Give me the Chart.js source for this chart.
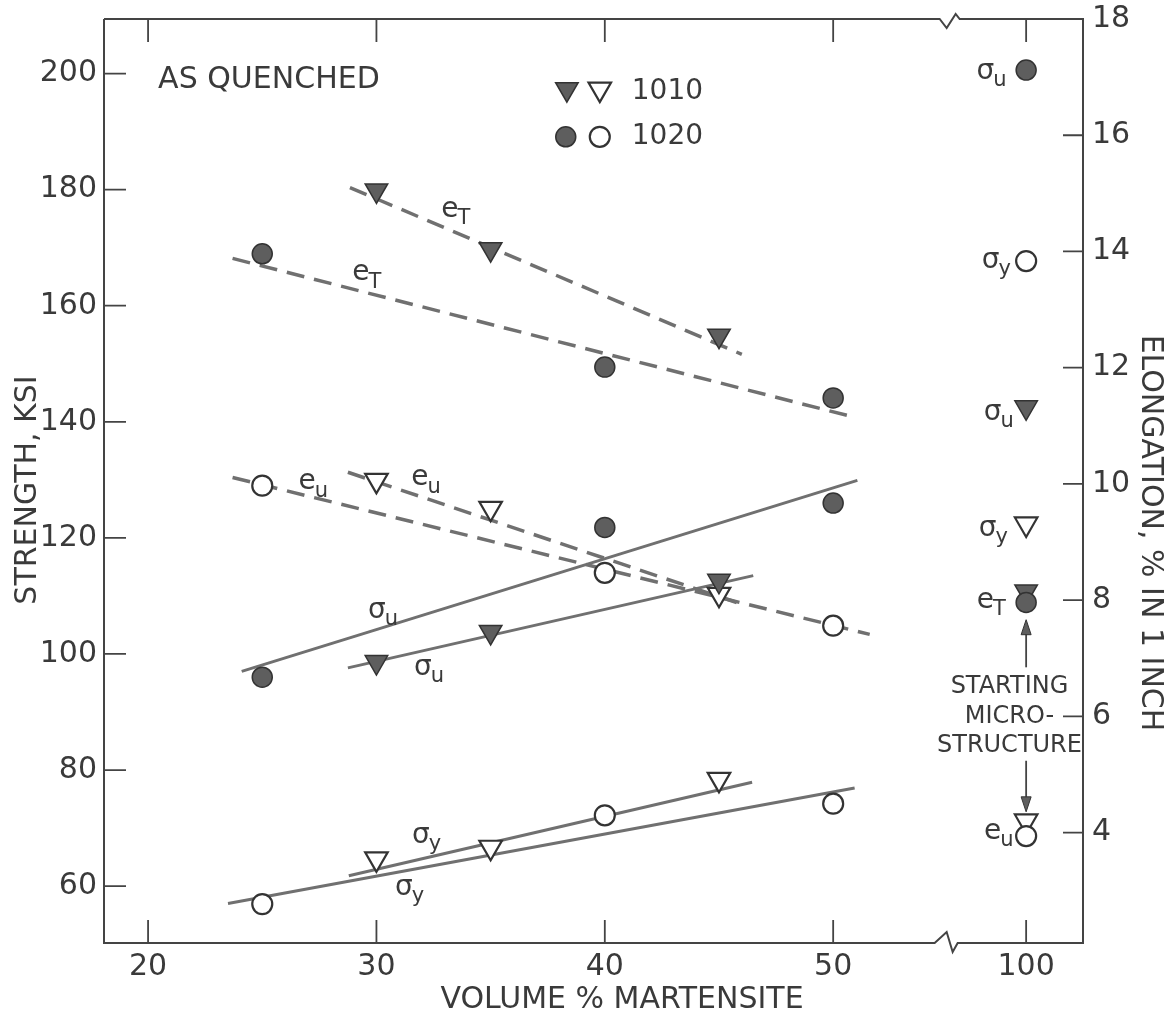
<!DOCTYPE html>
<html><head><meta charset="utf-8">
<script src="https://cdn.jsdelivr.net/npm/chart.js@4.4.1/dist/chart.umd.min.js"></script>
<style>html,body{margin:0;padding:0;background:#fff;}#wrap{width:1164px;height:1018px;}</style>
</head><body><div id="wrap"><canvas id="c" width="1164" height="1018"></canvas></div>
<script>
// ---------------- data ----------------
const vol1020 = [25, 40, 50];
const vol1010 = [30, 35, 45];
const sigmaU1020 = [96.0, 121.8, 126.0];   // ksi
const sigmaY1020 = [56.9, 72.2, 74.2];     // ksi
const elongT1020 = [13.96, 12.01, 11.48];  // %
const elongU1020 = [9.97, 8.47, 7.56];     // %
const sigmaU1010 = [98.6, 103.8, 112.6];
const sigmaY1010 = [64.7, 66.7, 78.4];
const elongT1010 = [15.05, 14.04, 12.55];
const elongU1010 = [10.06, 9.58, 8.1];
// 100 % martensite (starting microstructure): [sigmaU, sigmaY, eT, eU]
const start1020 = [200.6, 167.7, 7.96, 3.94];
const start1010 = [142.5, 122.4, 8.15, 4.2];
// fitted lines [start, end] as [vol %, value]
const fitET1010 = [[28.84, 15.10], [46.0, 12.23]];
const fitET1020 = [[23.7, 13.88], [51.0, 11.14]];
const fitEU1020 = [[23.7, 10.11], [51.6, 7.41]];
const fitEU1010 = [[28.75, 10.2], [46.0, 7.93]];
const fitSU1020 = [[24.1, 97.0], [51.06, 129.9]];
const fitSU1010 = [[28.75, 97.6], [46.5, 113.5]];
const fitSY1020 = [[23.5, 57.0], [50.94, 76.9]];
const fitSY1010 = [[28.79, 61.8], [46.45, 77.9]];
// axes
const xTickValues = [20, 30, 40, 50, 58.45];   // 58.45 = position of 100 % after the axis break
const xTickLabels = ['20', '30', '40', '50', '100'];
const POS100 = 58.45;
const BREAK_AT = 54.97;
const yTickValues = [60, 80, 100, 120, 140, 160, 180, 200];
const y2TickValues = [4, 6, 8, 10, 12, 14, 16, 18];

// ---------------- styling ----------------
const FONT = '"DejaVu Sans", sans-serif';
const TXT = '#3a3a3a';
const LINE = '#707070';
const FILL = '#5e5e5e';
const EDGE = '#333333';

function pts(xs, ys) { return xs.map((x, i) => ({x: x, y: ys[i]})); }
function seg(s) { return s.map(p => ({x: p[0], y: p[1]})); }

function marker(data, axis, style, filled) {
  return {
    type: 'scatter', data: data, yAxisID: axis, order: 0, showLine: false,
    pointStyle: style, pointRotation: style === 'triangle' ? 180 : 0,
    pointRadius: style === 'triangle' ? 13 : 10,
    pointBackgroundColor: filled ? FILL : '#ffffff',
    pointBorderColor: EDGE, pointBorderWidth: filled ? 1.5 : 2.2
  };
}
function fitLine(s, axis, dashed) {
  return {
    type: 'scatter', data: seg(s), yAxisID: axis, order: 1, showLine: true,
    borderColor: LINE, borderWidth: dashed ? 3.5 : 3, borderDash: dashed ? [18, 10] : [],
    pointRadius: 0, fill: false
  };
}

const datasets = [
  marker(pts(vol1020, sigmaU1020).concat([{x: POS100, y: start1020[0]}]), 'y', 'circle', true),
  marker(pts(vol1020, sigmaY1020).concat([{x: POS100, y: start1020[1]}]), 'y', 'circle', false),
  marker(pts(vol1020, elongT1020).concat([{x: POS100, y: start1020[2]}]), 'y2', 'circle', true),
  marker(pts(vol1020, elongU1020).concat([{x: POS100, y: start1020[3]}]), 'y2', 'circle', false),
  marker(pts(vol1010, sigmaU1010).concat([{x: POS100, y: start1010[0]}]), 'y', 'triangle', true),
  marker(pts(vol1010, sigmaY1010).concat([{x: POS100, y: start1010[1]}]), 'y', 'triangle', false),
  marker(pts(vol1010, elongT1010).concat([{x: POS100, y: start1010[2]}]), 'y2', 'triangle', true),
  marker(pts(vol1010, elongU1010).concat([{x: POS100, y: start1010[3]}]), 'y2', 'triangle', false),
  fitLine(fitET1010, 'y2', true),
  fitLine(fitET1020, 'y2', true),
  fitLine(fitEU1020, 'y2', true),
  fitLine(fitEU1010, 'y2', true),
  fitLine(fitSU1020, 'y', false),
  fitLine(fitSU1010, 'y', false),
  fitLine(fitSY1020, 'y', false),
  fitLine(fitSY1010, 'y', false)
];

// annotation labels (positions in data units: vol %, ksi)
const curveLabels = [
  {m: 'e', s: 'T', x: 33.22, y: 176.5},
  {m: 'e', s: 'T', x: 29.32, y: 165.6},
  {m: 'e', s: 'u', x: 26.96, y: 129.6},
  {m: 'e', s: 'u', x: 31.9,  y: 130.3},
  {m: 'σ', s: 'u', x: 30.02, y: 107.5},
  {m: 'σ', s: 'u', x: 32.03, y: 97.7},
  {m: 'σ', s: 'y', x: 31.95, y: 68.7},
  {m: 'σ', s: 'y', x: 31.2,  y: 59.7},
  {m: 'σ', s: 'u', x: 56.67, y: 200.4},
  {m: 'σ', s: 'y', x: 56.9,  y: 167.7},
  {m: 'σ', s: 'u', x: 56.98, y: 141.6},
  {m: 'σ', s: 'y', x: 56.76, y: 121.6},
  {m: 'e', s: 'T', x: 56.67, y: 109.2},
  {m: 'e', s: 'u', x: 56.98, y: 69.4}
];

function drawMark(ctx, style, filled, x, y) {
  ctx.save();
  ctx.fillStyle = filled ? FILL : '#fff';
  ctx.strokeStyle = EDGE;
  ctx.lineWidth = filled ? 1.5 : 2.2;
  ctx.beginPath();
  if (style === 'circle') {
    ctx.arc(x, y, 10, 0, Math.PI * 2);
  } else {
    const r = 13;
    ctx.moveTo(x, y + r);
    ctx.lineTo(x + r * Math.sin(Math.PI / 3), y - r / 2);
    ctx.lineTo(x - r * Math.sin(Math.PI / 3), y - r / 2);
    ctx.closePath();
  }
  ctx.fill(); ctx.stroke();
  ctx.restore();
}

const decor = {
  id: 'decor',
  afterDraw(chart) {
    const ctx = chart.ctx, a = chart.chartArea;
    const x = chart.scales.x, y = chart.scales.y, y2 = chart.scales.y2;
    ctx.save();
    // frame with axis breaks
    const bx = x.getPixelForValue(BREAK_AT);
    ctx.strokeStyle = '#444'; ctx.lineWidth = 2; ctx.lineJoin = 'miter';
    ctx.beginPath();
    ctx.moveTo(a.left, a.top); ctx.lineTo(a.left, a.bottom);
    ctx.lineTo(bx - 12, a.bottom); ctx.lineTo(bx, a.bottom - 11); ctx.lineTo(bx + 6, a.bottom + 9); ctx.lineTo(bx + 11, a.bottom);
    ctx.lineTo(a.right, a.bottom); ctx.lineTo(a.right, a.top);
    ctx.lineTo(bx + 13, a.top); ctx.lineTo(bx + 9, a.top - 5); ctx.lineTo(bx, a.top + 9); ctx.lineTo(bx - 7, a.top);
    ctx.lineTo(a.left, a.top);
    ctx.stroke();
    // inward tick marks
    ctx.lineWidth = 1.8; ctx.strokeStyle = '#444';
    ctx.beginPath();
    x.ticks.forEach(t => {
      const px = x.getPixelForValue(t.value);
      ctx.moveTo(px, a.bottom); ctx.lineTo(px, a.bottom - 23);
      ctx.moveTo(px, a.top); ctx.lineTo(px, a.top + 23);
    });
    y.ticks.forEach(t => {
      const py = y.getPixelForValue(t.value);
      ctx.moveTo(a.left, py); ctx.lineTo(a.left + 22, py);
    });
    y2.ticks.forEach(t => {
      const py = y2.getPixelForValue(t.value);
      ctx.moveTo(a.right, py); ctx.lineTo(a.right - 20, py);
    });
    ctx.stroke();

    // axis titles
    ctx.fillStyle = TXT; ctx.textAlign = 'center'; ctx.textBaseline = 'middle';
    ctx.font = '30px ' + FONT;
    ctx.fillText('VOLUME % MARTENSITE', 622, 1000);
    ctx.save(); ctx.translate(28, 490); ctx.rotate(-Math.PI / 2);
    ctx.fillText('STRENGTH, KSI', 0, 0); ctx.restore();
    ctx.save(); ctx.translate(1150, 533); ctx.rotate(Math.PI / 2);
    ctx.fillText('ELONGATION, % IN 1 INCH', 0, 0); ctx.restore();

    // AS QUENCHED
    ctx.textAlign = 'left';
    ctx.fillText('AS QUENCHED', x.getPixelForValue(20.44), y.getPixelForValue(198.9));

    // legend
    const ly1 = y.getPixelForValue(196.8), ly2 = y.getPixelForValue(189.1);
    drawMark(ctx, 'triangle', true, x.getPixelForValue(38.34), ly1 - 3);
    drawMark(ctx, 'triangle', false, x.getPixelForValue(39.78), ly1 - 3);
    drawMark(ctx, 'circle', true, x.getPixelForValue(38.29), ly2);
    drawMark(ctx, 'circle', false, x.getPixelForValue(39.78), ly2);
    ctx.fillStyle = TXT; ctx.font = '28px ' + FONT; ctx.textAlign = 'left'; ctx.textBaseline = 'middle';
    ctx.fillText('1010', x.getPixelForValue(41.18), ly1);
    ctx.fillText('1020', x.getPixelForValue(41.18), ly2);

    // curve labels with subscripts
    curveLabels.forEach(l => {
      const px = x.getPixelForValue(l.x), py = y.getPixelForValue(l.y);
      ctx.font = '28px ' + FONT; ctx.textAlign = 'center'; ctx.textBaseline = 'middle';
      const w = ctx.measureText(l.m).width;
      ctx.fillText(l.m, px, py);
      ctx.font = '21px ' + FONT; ctx.textAlign = 'left';
      ctx.fillText(l.s, px + w / 2 - 1, py + 9);
    });

    // starting microstructure note with arrows
    ctx.font = '24px ' + FONT; ctx.textAlign = 'center'; ctx.textBaseline = 'middle';
    const tx = x.getPixelForValue(57.72);
    ctx.fillText('STARTING', tx, y.getPixelForValue(94.4));
    ctx.fillText('MICRO-', tx, y.getPixelForValue(89.1));
    ctx.fillText('STRUCTURE', tx, y.getPixelForValue(84.1));
    const ax = x.getPixelForValue(POS100);
    function arrow(fromV, toV) {
      const p0 = y.getPixelForValue(fromV), p1 = y.getPixelForValue(toV);
      const dir = Math.sign(p1 - p0);
      ctx.strokeStyle = '#444'; ctx.lineWidth = 1.8;
      ctx.beginPath(); ctx.moveTo(ax, p0); ctx.lineTo(ax, p1 - dir * 12); ctx.stroke();
      ctx.fillStyle = FILL;
      ctx.beginPath(); ctx.moveTo(ax, p1); ctx.lineTo(ax - 5, p1 - dir * 15); ctx.lineTo(ax + 5, p1 - dir * 15); ctx.closePath();
      ctx.fill(); ctx.strokeStyle = EDGE; ctx.lineWidth = 1; ctx.stroke();
    }
    arrow(97.7, 105.9);
    arrow(81.6, 72.8);
    ctx.restore();
  }
};

function noPad(s) { s.paddingTop = 0; s.paddingBottom = 0; s.paddingLeft = 0; s.paddingRight = 0; }

new Chart(document.getElementById('c'), {
  data: {datasets: datasets},
  options: {
    responsive: false, animation: false,
    layout: {padding: {top: 19, left: 0, right: 0, bottom: 0}},
    plugins: {legend: {display: false}, tooltip: {enabled: false}},
    scales: {
      x: {
        type: 'linear', position: 'bottom', min: 18.07, max: 60.94,
        afterBuildTicks: s => { s.ticks = xTickValues.map(v => ({value: v})); },
        afterFit: s => { s.height = 75; noPad(s); },
        grid: {display: false, drawTicks: false}, border: {display: false},
        ticks: {autoSkip: false, maxRotation: 0, padding: 6, color: TXT, font: {family: FONT, size: 30},
                callback: (v, i) => xTickLabels[i]}
      },
      y: {
        type: 'linear', position: 'left', min: 50.2, max: 209.4,
        afterBuildTicks: s => { s.ticks = yTickValues.map(v => ({value: v})); },
        afterFit: s => { s.width = 104; noPad(s); },
        grid: {display: false, drawTicks: false}, border: {display: false},
        ticks: {padding: 7, color: TXT, font: {family: FONT, size: 30}}
      },
      y2: {
        type: 'linear', position: 'right', min: 2.1, max: 18.0,
        afterBuildTicks: s => { s.ticks = y2TickValues.map(v => ({value: v})); },
        afterFit: s => { s.width = 81; noPad(s); },
        grid: {display: false, drawTicks: false}, border: {display: false},
        ticks: {padding: 9, color: TXT, font: {family: FONT, size: 30}}
      }
    }
  },
  plugins: [decor]
});
</script></body></html>
